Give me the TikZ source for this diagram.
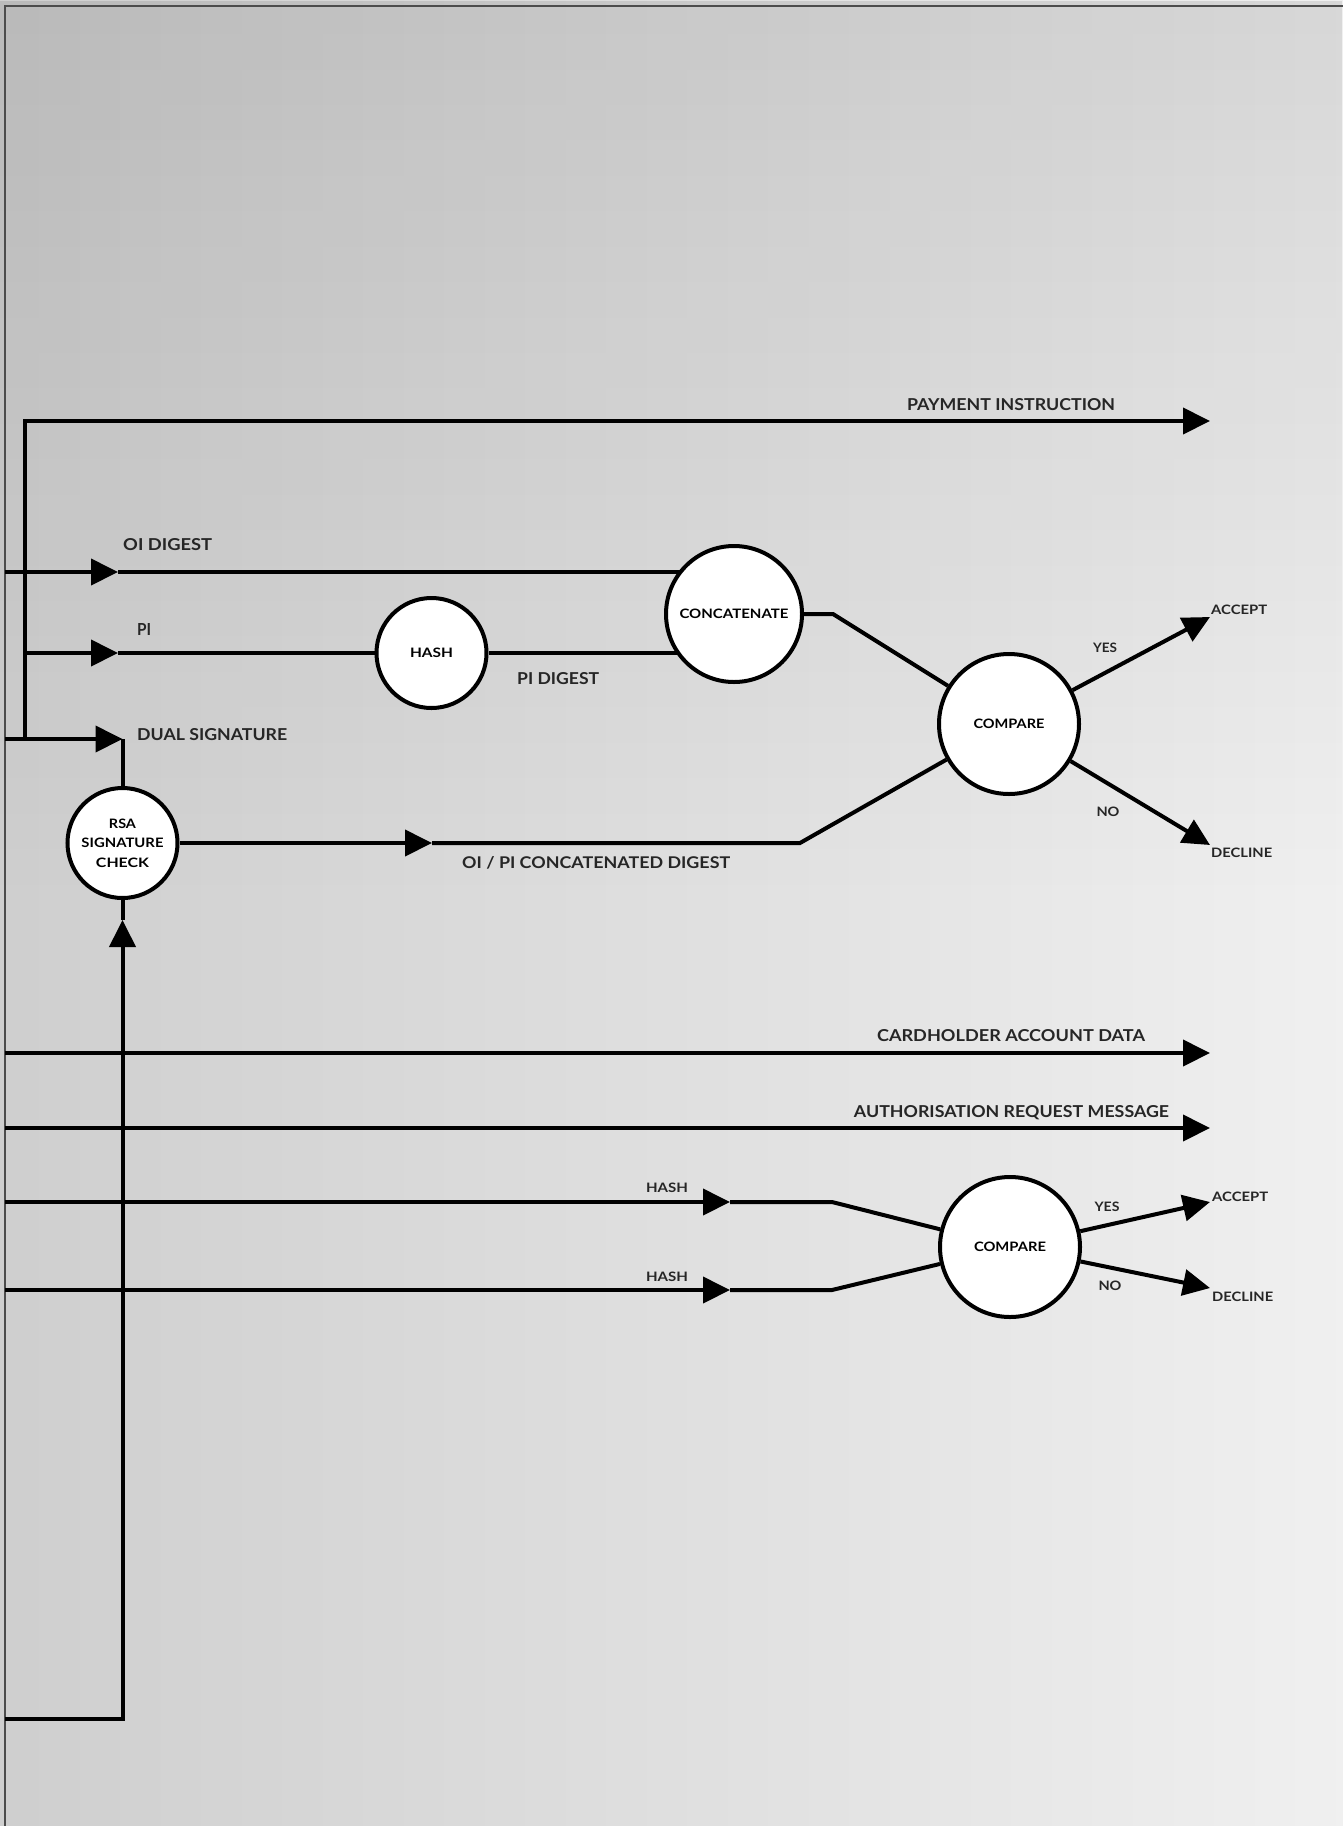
\documentclass[tikz,border=0pt]{standalone}
\usepackage{fontspec}
\setmainfont{Lato}
\usepackage{graphicx}
\usetikzlibrary{arrows.meta,fadings}
\pgfdeclarelayer{bg}
\pgfdeclarelayer{lines}
\pgfsetlayers{bg,lines,main}
\newcommand\biglbl[2]{\resizebox{#1pt}{12pt}{\bfseries #2}}
\newcommand\smlbl[2]{\resizebox{#1pt}{9.5pt}{\bfseries #2}}
\tikzfading[name=topfade, top color=transparent!90, bottom color=transparent!100]
\definecolor{bgL}{gray}{0.81}
\definecolor{bgR}{gray}{0.94}
\begin{document}
\begin{tikzpicture}[x=1pt,y=-1pt,
  flow/.style={line width=4pt, black, line cap=butt, line join=miter},
  arr/.style={flow, -{Triangle[length=27pt,width=26pt]}},
  proc/.style={circle, draw, line width=4pt, fill=white, inner sep=0pt, minimum size=#1},
  txt/.style={inner sep=0pt, text=black!85},
]
\useasboundingbox (0,0) rectangle (1343,1826);
\begin{pgfonlayer}{bg}
\shade[left color=bgL, right color=bgR] (0,0) rectangle (1343,1826);
\fill[black, path fading=topfade] (0,0) rectangle (1343,900);
\draw[line width=2pt, black!70] (5,1826) -- (5,6) -- (1343,6);
\end{pgfonlayer}

% process circles
\node[proc=110pt] (hash) at (431.5,653) {\smlbl{43}{HASH}};
\node[proc=136pt] (concat) at (734,614) {\smlbl{109}{CONCATENATE}};
\node[proc=140pt] (cmp1) at (1009,724) {\smlbl{71}{COMPARE}};
\node[proc=140pt] (cmp2) at (1010,1247) {\smlbl{72}{COMPARE}};
\node[proc=110pt, align=center, font=\fontsize{9}{19.5}\selectfont] (rsa) at (122.5,843)
  {\smlbl{27}{RSA}\\\smlbl{82}{SIGNATURE}\\\smlbl{53}{CHECK}};

% coordinates
\coordinate (piTop) at (25,421);
\coordinate (piEnd) at (1210,421);
\coordinate (busBot) at (25,739);
\coordinate (oiStart) at (5,572);
\coordinate (oiArr) at (118,572);
\coordinate (piStart) at (25,653);
\coordinate (piArr) at (118,653);
\coordinate (dsStart) at (5,739);
\coordinate (dsCorner) at (122.5,739);
\coordinate (rsaArr) at (432,843);
\coordinate (rsaBend) at (800,843);
\coordinate (catBend) at (833,614);
\coordinate (acc1) at (1210,617);
\coordinate (dec1) at (1210,845);
\coordinate (chStart) at (5,1053);
\coordinate (chEnd) at (1210,1053);
\coordinate (arStart) at (5,1128);
\coordinate (arEnd) at (1210,1128);
\coordinate (h1Start) at (5,1202);
\coordinate (h1Arr) at (730,1202);
\coordinate (h1Bend) at (832,1202);
\coordinate (h2Start) at (5,1290);
\coordinate (h2Arr) at (730,1290);
\coordinate (h2Bend) at (832,1290);
\coordinate (acc2) at (1210,1202);
\coordinate (dec2) at (1210,1288);
\coordinate (botL) at (5,1719);
\coordinate (botC) at (122.5,1719);
\coordinate (upArr) at (122.5,920);

\begin{pgfonlayer}{lines}
\draw[arr] (busBot) -- (piTop) -- (piEnd);
\draw[arr] (oiStart) -- (oiArr);
\draw[flow] (oiArr) -- (oiArr -| concat);
\draw[arr] (piStart) -- (piArr);
\draw[flow] (piArr) -- (hash);
\draw[flow] (hash) -- (hash -| concat);
\draw[arr] (dsStart) -- (dsCorner);
\draw[flow] (dsCorner) -- (rsa);
\draw[arr] (rsa) -- (rsaArr);
\draw[flow] (rsaArr) -- (rsaBend) -- (cmp1);
\draw[flow] (concat) -- (catBend) -- (cmp1);
\draw[arr] (cmp1) -- (acc1);
\draw[arr] (cmp1) -- (dec1);
\draw[arr] (chStart) -- (chEnd);
\draw[arr] (arStart) -- (arEnd);
\draw[arr] (h1Start) -- (h1Arr);
\draw[flow] (h1Arr) -- (h1Bend) -- (cmp2);
\draw[arr] (h2Start) -- (h2Arr);
\draw[flow] (h2Arr) -- (h2Bend) -- (cmp2);
\draw[arr] (cmp2) -- (acc2);
\draw[arr] (cmp2) -- (dec2);
\draw[arr] (botL) -- (botC) -- (upArr);
\draw[flow] (upArr) -- (rsa);
\end{pgfonlayer}

% labels
\node[txt] (lPay) at (1011,405) {\biglbl{208}{PAYMENT INSTRUCTION}};
\node[txt, anchor=west] (lOI) at (123,545) {\biglbl{89}{OI DIGEST}};
\node[txt, anchor=west] (lPI) at (137,629) {\biglbl{14}{PI}};
\node[txt, anchor=west] (lDS) at (137,735) {\biglbl{150}{DUAL SIGNATURE}};
\node[txt, anchor=west] (lPID) at (517,679) {\biglbl{82}{PI DIGEST}};
\node[txt, anchor=west] (lOIPI) at (462,863) {\biglbl{268}{OI / PI CONCATENATED DIGEST}};
\node[txt] (lCH) at (1011,1036) {\biglbl{268}{CARDHOLDER ACCOUNT DATA}};
\node[txt] (lAR) at (1011.5,1113) {\biglbl{315}{AUTHORISATION REQUEST MESSAGE}};
\node[txt] (lH1) at (667,1188) {\smlbl{42}{HASH}};
\node[txt] (lH2) at (667,1277) {\smlbl{42}{HASH}};
\node[txt] (lY1) at (1105,648) {\smlbl{24}{YES}};
\node[txt] (lN1) at (1108,812) {\smlbl{23}{NO}};
\node[txt, anchor=west] (lA1) at (1211,610) {\smlbl{56}{ACCEPT}};
\node[txt, anchor=west] (lD1) at (1211,853) {\smlbl{61}{DECLINE}};
\node[txt] (lY2) at (1107,1207) {\smlbl{25}{YES}};
\node[txt] (lN2) at (1110,1286) {\smlbl{23}{NO}};
\node[txt, anchor=west] (lA2) at (1212,1197) {\smlbl{56}{ACCEPT}};
\node[txt, anchor=west] (lD2) at (1212,1297) {\smlbl{61}{DECLINE}};
\end{tikzpicture}
\end{document}
